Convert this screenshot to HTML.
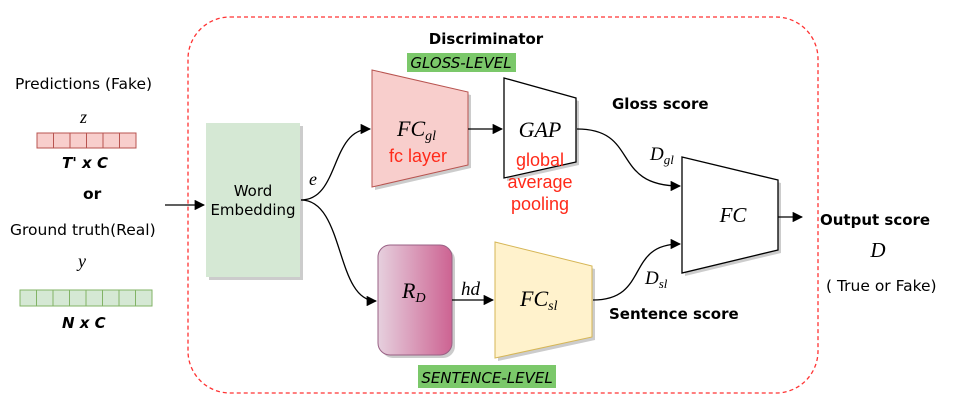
<!DOCTYPE html>
<html><head><meta charset="utf-8"><style>
body{margin:0;background:#fff}
svg{display:block}
text{font-family:"DejaVu Sans",sans-serif}
.l{font-family:"Liberation Sans",sans-serif}
.m{font-family:"Liberation Serif",serif;font-style:italic}
</style></head><body>
<svg width="960" height="408" viewBox="0 0 960 408" xmlns="http://www.w3.org/2000/svg">
<defs>
<marker id="a" viewBox="0 0 10 10" refX="9" refY="5" markerWidth="8" markerHeight="8" orient="auto"><path d="M0,0 L10,5 L0,10 z" fill="#000"/></marker>
<linearGradient id="g" x1="0" x2="1"><stop offset="0" stop-color="#e6d0de"/><stop offset="1" stop-color="#cd6392"/></linearGradient>
</defs>
<rect x="188" y="17" width="630" height="376" rx="42" fill="none" stroke="#ff3333" stroke-width="1.3" stroke-dasharray="4,3"/>
<text x="15" y="89" font-size="15.5">Predictions (Fake)</text>
<text x="80" y="123" font-size="18" class="m">z</text>
<g fill="#f8cecc" stroke="#b85450" stroke-width="1">
<rect x="37" y="133" width="16.5" height="15"/><rect x="53.5" y="133" width="16.5" height="15"/><rect x="70" y="133" width="16.5" height="15"/><rect x="86.5" y="133" width="16.5" height="15"/><rect x="103" y="133" width="16.5" height="15"/><rect x="119.5" y="133" width="16.5" height="15"/>
</g>
<text x="62" y="168" font-size="15" font-weight="bold" font-style="italic">T' x C</text>
<text x="83" y="199" font-size="15.5" font-weight="bold">or</text>
<text x="10" y="235" font-size="15.5">Ground truth(Real)</text>
<text x="78" y="267" font-size="18" class="m">y</text>
<g fill="#d5e8d4" stroke="#82b366" stroke-width="1">
<rect x="20" y="290" width="16.5" height="16"/><rect x="36.5" y="290" width="16.5" height="16"/><rect x="53" y="290" width="16.5" height="16"/><rect x="69.5" y="290" width="16.5" height="16"/><rect x="86" y="290" width="16.5" height="16"/><rect x="102.5" y="290" width="16.5" height="16"/><rect x="119" y="290" width="16.5" height="16"/><rect x="135.5" y="290" width="16.5" height="16"/>
</g>
<text x="62" y="328" font-size="15" font-weight="bold" font-style="italic">N x C</text>
<line x1="165" y1="205" x2="204" y2="205" stroke="#000" stroke-width="1.3" marker-end="url(#a)"/>
<rect x="209" y="126" width="94" height="154" fill="#ccc"/>
<rect x="206" y="123" width="94" height="154" fill="#d5e8d4"/>
<text x="253" y="196" font-size="15" text-anchor="middle">Word</text>
<text x="253" y="215" font-size="15" text-anchor="middle">Embedding</text>
<text x="309" y="185" font-size="18" class="m">e</text>
<path d="M301,200 C340,200 330,129 370,129" fill="none" stroke="#000" stroke-width="1.3" marker-end="url(#a)"/>
<path d="M301,200 C345,200 335,301 376,301" fill="none" stroke="#000" stroke-width="1.3" marker-end="url(#a)"/>
<text x="486" y="44" font-size="15" font-weight="bold" text-anchor="middle">Discriminator</text>
<rect x="407" y="53" width="109" height="19" fill="#7bc86a"/>
<text x="461" y="68" font-size="15" font-style="italic" text-anchor="middle">GLOSS-LEVEL</text>
<polygon points="375,73 471,95 471,168 375,190" fill="#ccc"/>
<polygon points="372,70 468,92 468,165 372,187" fill="#f8cecc" stroke="#b85450"/>
<text x="397" y="136" font-size="22" class="m">FC<tspan font-size="14" dy="4">gl</tspan></text>
<text x="418" y="162" font-size="18" fill="#ff2a1a" text-anchor="middle" class="l">fc layer</text>
<line x1="468" y1="129" x2="502" y2="129" stroke="#000" stroke-width="1.3" marker-end="url(#a)"/>
<polygon points="507,81 579,101 579,165 507,181" fill="#ccc"/>
<polygon points="504,78 576,98 576,162 504,178" fill="#fff" stroke="#000" stroke-width="1.3"/>
<text x="540" y="137" font-size="22" class="m" text-anchor="middle">GAP</text>
<text x="540" y="166" font-size="18" fill="#ff2a1a" text-anchor="middle" class="l">global</text>
<text x="540" y="188" font-size="18" fill="#ff2a1a" text-anchor="middle" class="l">average</text>
<text x="540" y="210" font-size="18" fill="#ff2a1a" text-anchor="middle" class="l">pooling</text>
<text x="612" y="109" font-size="15" font-weight="bold">Gloss score</text>
<path d="M577,129 C640,129 610,186 680,186" fill="none" stroke="#000" stroke-width="1.3" marker-end="url(#a)"/>
<text x="650" y="160" font-size="19" class="m">D<tspan font-size="13" dy="4">gl</tspan></text>
<polygon points="685,160 781,183 781,253 685,276" fill="#ccc"/>
<polygon points="682,157 778,180 778,250 682,273" fill="#fff" stroke="#000" stroke-width="1.3"/>
<text x="733" y="222" font-size="21" class="m" text-anchor="middle">FC</text>
<line x1="778" y1="217" x2="802" y2="217" stroke="#000" stroke-width="1.3" marker-end="url(#a)"/>
<text x="820" y="225" font-size="15" font-weight="bold">Output score</text>
<text x="878" y="257" font-size="21" class="m" text-anchor="middle">D</text>
<text x="826" y="291" font-size="15.5">( True or Fake)</text>
<rect x="381" y="248" width="74" height="110" rx="12" fill="#ccc"/>
<rect x="378" y="245" width="74" height="110" rx="12" fill="url(#g)" stroke="#996185"/>
<text x="402" y="298" font-size="22" class="m">R<tspan font-size="14" dy="4">D</tspan></text>
<line x1="452" y1="300" x2="493" y2="300" stroke="#000" stroke-width="1.3" marker-end="url(#a)"/>
<text x="461" y="295" font-size="19" class="m">hd</text>
<polygon points="498,245 595,269 595,340 498,361" fill="#ccc"/>
<polygon points="495,242 592,266 592,337 495,358" fill="#fff2cc" stroke="#d6b656"/>
<text x="520" y="306" font-size="22" class="m">FC<tspan font-size="14" dy="4">sl</tspan></text>
<path d="M593,300 C650,300 625,244 680,244" fill="none" stroke="#000" stroke-width="1.3" marker-end="url(#a)"/>
<text x="645" y="284" font-size="19" class="m">D<tspan font-size="13" dy="4">sl</tspan></text>
<text x="609" y="319" font-size="15" font-weight="bold">Sentence score</text>
<rect x="418" y="365" width="138" height="23" fill="#7bc86a"/>
<text x="487" y="383" font-size="15" font-style="italic" text-anchor="middle">SENTENCE-LEVEL</text>
</svg>
</body></html>
